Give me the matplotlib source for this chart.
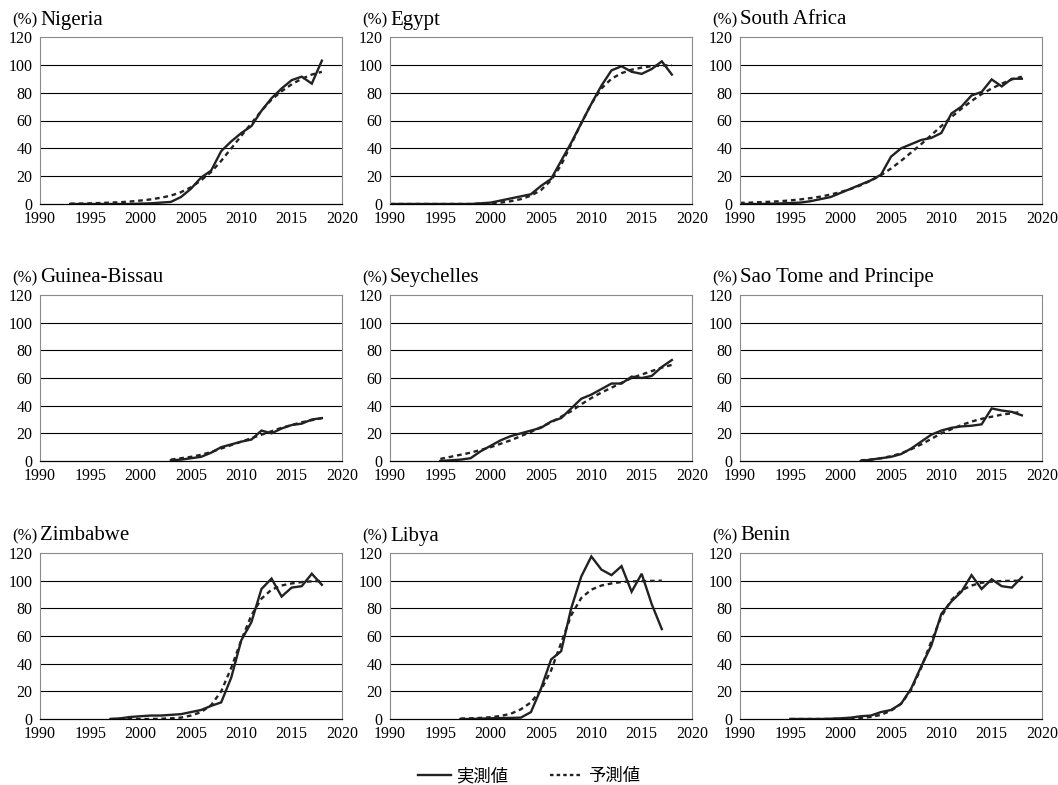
import matplotlib
matplotlib.use("Agg")
import matplotlib.pyplot as plt
from matplotlib.lines import Line2D

plt.rcParams['font.family'] = ['Liberation Serif', 'Noto Sans CJK JP', 'DejaVu Sans']

countries = ["Nigeria", "Egypt", "South Africa",
             "Guinea-Bissau", "Seychelles", "Sao Tome and Principe",
             "Zimbabwe", "Libya", "Benin"]

start_years = [1993, 1990, 1990, 2003, 1995, 2002, 1997, 1997, 1995]

nigeria_actual = [0, 0, 0, 0, 0, 0, 0, 0.3, 0.5, 1, 1.5, 5, 11, 19, 24, 38, 45, 51, 56, 67, 76, 83, 89, 91.5, 86.5, 103]
nigeria_pred = [0.2, 0.3, 0.5, 0.7, 1, 1.3, 1.8, 2.5, 3.3, 4.5, 6, 8.5, 12, 17, 23, 31, 40, 49, 58, 67, 75, 81, 86, 90, 93, 95]

egypt_actual = [0, 0, 0, 0, 0, 0, 0, 0, 0, 0.5, 1, 2.5, 4, 5.5, 7, 13, 18, 31, 44, 58, 72, 85, 96, 99, 95, 93.5, 97, 102.5, 93]
egypt_pred = [0, 0, 0, 0, 0, 0, 0, 0, 0, 0.2, 0.5, 1, 2, 3.5, 6, 10, 17, 28, 43, 58, 72, 83, 90, 94, 96.5, 98, 99, 99.5, 99.7]

safrica_actual = [0, 0, 0, 0.2, 0.4, 0.7, 1, 2, 3.5, 5, 8, 11, 14, 17, 21, 34, 40, 43, 46, 47.5, 51, 65, 70, 78, 80.5, 89.5, 84.5, 90, 90]
safrica_pred = [0.8, 1, 1.3, 1.6, 2, 2.6, 3.3, 4.2, 5.3, 6.8, 8.6, 10.8, 13.5, 16.8, 20.7, 25.5, 31, 37, 43, 49.5, 56, 62.5, 68.5, 74, 79, 83, 86.5, 89.5, 91.5]

gbissau_actual = [0.5, 1, 2, 3, 6, 10, 12, 14, 15.5, 22, 20, 23.5, 26, 27, 30, 31]
gbissau_pred = [1, 2, 3, 4.5, 6.5, 9, 11.5, 14, 16.5, 19, 21.5, 24, 26, 28, 29.5, 31]

seychelles_actual = [0, 0.5, 1, 2, 7, 11, 15, 18, 20, 22, 24, 28.5, 31, 38, 45, 48, 52, 56, 56, 61, 60, 61.5, 68, 73]
seychelles_pred = [1.5, 3, 4.5, 6, 8, 10, 12.5, 15, 18, 21, 24.5, 28, 32, 36, 41, 45.5, 49.5, 53, 56.5, 60, 62.5, 65, 67.5, 69.5]

saotome_actual = [0, 1, 2, 3, 5, 9, 14, 19, 22, 24, 25, 25.5, 26.5, 38, 36.5, 35.5, 33]
saotome_pred = [0.5, 1, 2, 3.5, 5.5, 8.5, 12, 16, 20, 23, 26, 28.5, 30.5, 32, 33.5, 34.5, 35.5]

zimbabwe_actual = [0, 0.5, 1.5, 2, 2.5, 2.5, 3, 3.5, 5, 6.5, 9.5, 12, 30, 57, 70, 94, 101.5, 88.5, 95, 96, 105, 97]
zimbabwe_pred = [0, 0, 0, 0, 0, 0.2, 0.5, 1, 2.5, 5, 10, 20, 37, 57, 75, 87, 93.5, 96.5, 98, 99, 99.5, 99.8]

libya_actual = [0, 0, 0.3, 0.5, 0.7, 0.8, 1, 5, 22, 43, 49, 80, 103, 117.5, 108, 104, 110.5, 92, 105, 83, 65]
libya_pred = [0.3, 0.5, 0.8, 1.3, 2.2, 3.8, 7, 12, 21, 35, 55, 75, 87.5, 93.5, 96.5, 98, 99, 99.5, 99.7, 99.8, 100]

benin_actual = [0, 0, 0, 0, 0.2, 0.5, 1, 2, 2.5, 5, 6.5, 11, 22, 38, 53, 76, 85, 92, 104, 94, 101, 96, 95, 102.5]
benin_pred = [0, 0, 0, 0, 0, 0.2, 0.5, 0.8, 1.5, 3, 6, 11, 21, 37, 56, 74, 86, 93, 96.5, 98.5, 99.3, 99.7, 99.9, 100]

actual = [nigeria_actual, egypt_actual, safrica_actual,
          gbissau_actual, seychelles_actual, saotome_actual,
          zimbabwe_actual, libya_actual, benin_actual]
predicted = [nigeria_pred, egypt_pred, safrica_pred,
             gbissau_pred, seychelles_pred, saotome_pred,
             zimbabwe_pred, libya_pred, benin_pred]

W, H = 1058, 785
col_x = [40, 390, 740]
row_y = [(37, 204), (295, 461), (553, 719)]
ax_w = 302

fig = plt.figure(figsize=(W / 100, H / 100), dpi=100)

for i, name in enumerate(countries):
    r, c = divmod(i, 3)
    top, bot = row_y[r]
    ax = fig.add_axes([col_x[c] / W, 1 - bot / H, ax_w / W, (bot - top) / H])
    years = list(range(start_years[i], start_years[i] + len(actual[i])))
    ax.plot(years, actual[i], color='#222222', lw=1.7, solid_joinstyle='miter')
    ax.plot(years, predicted[i], color='#222222', lw=1.7, linestyle=(0, (2, 1.6)))
    ax.set_xlim(1990, 2020)
    ax.set_ylim(0, 120)
    ax.set_xticks(range(1990, 2021, 5))
    ax.set_yticks(range(0, 121, 20))
    ax.tick_params(length=0, labelsize=11.5)
    ax.tick_params(axis='x', pad=5)
    ax.tick_params(axis='y', pad=5.5)
    for yv in range(20, 101, 20):
        ax.axhline(yv, color='black', lw=0.8, zorder=0)
    for s in ['top', 'right', 'left']:
        ax.spines[s].set_color('#8a8a8a')
        ax.spines[s].set_linewidth(0.8)
    ax.spines['bottom'].set_color('black')
    ax.spines['bottom'].set_linewidth(0.9)
    ax.annotate(name, xy=(0, 1), xycoords='axes fraction', xytext=(0, 9),
                textcoords='offset points', ha='left', va='baseline', fontsize=15)
    ax.annotate('(%)', xy=(0, 1), xycoords='axes fraction', xytext=(-2, 9),
                textcoords='offset points', ha='right', va='baseline', fontsize=12)

handles = [Line2D([], [], color='#222222', lw=1.7),
           Line2D([], [], color='#222222', lw=1.7, linestyle=(0, (1.5, 1.3)))]
fig.legend(handles, ['実測値', '予測値'], loc='center', bbox_to_anchor=(0.5, 1 - 776 / H),
           ncol=2, frameon=False, handlelength=1.9, handletextpad=0.3, columnspacing=2.4,
           borderpad=0.2, prop={'family': ['Noto Sans CJK JP'], 'size': 12.5})

fig.savefig('out.png', dpi=100)
